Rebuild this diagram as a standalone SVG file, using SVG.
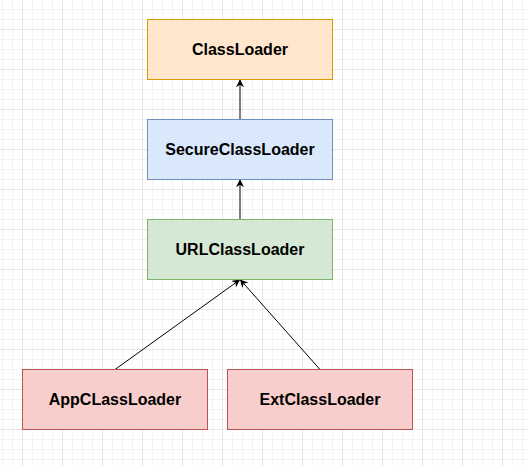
<svg xmlns="http://www.w3.org/2000/svg" width="528" height="466" viewBox="0 0 528 466">
<style>
.lbl{font-family:"Liberation Sans",Arial,Helvetica,sans-serif;font-size:16px;font-weight:bold;fill:#000;text-anchor:middle;dominant-baseline:central}
.edge{stroke:#000;stroke-width:1;fill:none;marker-end:url(#arr)}
.minor{stroke:#f3f3f3;stroke-width:1}
.major{stroke:#e6e6e6;stroke-width:1}
</style>
<defs>
<pattern id="grid" patternUnits="userSpaceOnUse" x="22" y="29" width="40" height="40">
<path class="minor" d="M10.5 0V40M20.5 0V40M30.5 0V40M0 10.5H40M0 20.5H40M0 30.5H40"/>
<path class="major" d="M0.5 0V40M0 0.5H40"/>
</pattern>
<marker id="arr" viewBox="0 0 10 10" refX="9" refY="5" markerWidth="8" markerHeight="8" markerUnits="userSpaceOnUse" orient="auto">
<path d="M0,0 L10,5 L0,10 L3,5 Z" fill="#000"/>
</marker>
</defs>
<rect width="528" height="466" fill="#fff"/>
<rect width="528" height="466" fill="url(#grid)"/>
<g id="connectors">
<line class="edge" x1="240" y1="119.5" x2="240" y2="80"/>
<line class="edge" x1="240" y1="219.5" x2="240" y2="180"/>
<line class="edge" x1="115" y1="369.5" x2="239.5" y2="280"/>
<line class="edge" x1="320" y1="369.5" x2="240.5" y2="280"/>
</g>
<g id="classloader">
<rect x="147.5" y="19.5" width="185" height="60" fill="#ffe6cc" stroke="#d79b00"/>
<text class="lbl" x="240" y="49.5">ClassLoader</text>
</g>
<g id="secureclassloader">
<rect x="147.5" y="119.5" width="185" height="60" fill="#dae8fc" stroke="#6c8ebf"/>
<text class="lbl" x="240" y="149.5">SecureClassLoader</text>
</g>
<g id="urlclassloader">
<rect x="147.5" y="219.5" width="185" height="60" fill="#d5e8d4" stroke="#82b366"/>
<text class="lbl" x="240" y="249.5">URLClassLoader</text>
</g>
<g id="appclassloader">
<rect x="22.5" y="369.5" width="185" height="60" fill="#f8cecc" stroke="#b85450"/>
<text class="lbl" x="115" y="399.5">AppCLassLoader</text>
</g>
<g id="extclassloader">
<rect x="227.5" y="369.5" width="185" height="60" fill="#f8cecc" stroke="#b85450"/>
<text class="lbl" x="320" y="399.5">ExtClassLoader</text>
</g>
</svg>
